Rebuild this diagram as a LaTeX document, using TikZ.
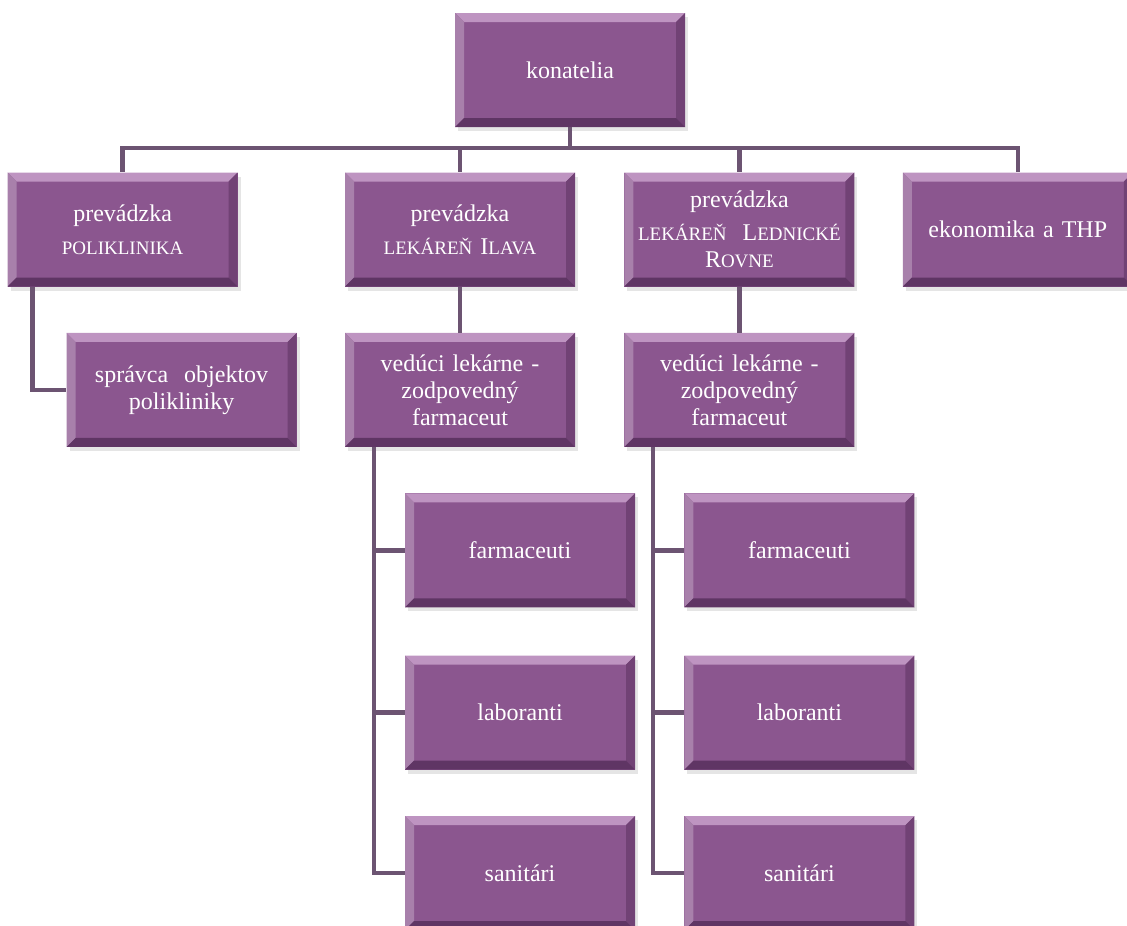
\documentclass[tikz,border=0pt]{standalone}
\usepackage{fontspec}
\setmainfont{Liberation Serif}
\usetikzlibrary{positioning,shadows}
\definecolor{fialova}{HTML}{8B568F}
\definecolor{svetla}{HTML}{BE94C1}
\definecolor{tmava}{HTML}{5F3564}
\definecolor{ciara}{HTML}{6C5472}
\newcommand{\kap}[1]{{\fontsize{19}{27}\selectfont #1}}

\begin{document}
\begin{tikzpicture}[x=1pt,y=1pt,node distance=46pt,
		unit/.style={rectangle,fill=fialova,text=white,minimum width=230pt,minimum height=114pt,
			text width=214pt,align=center,inner sep=0pt,font=\fontsize{24}{27}\selectfont,
			drop shadow={shadow xshift=3pt,shadow yshift=-4pt,fill=black!20},
			path picture={
				\fill[svetla] (path picture bounding box.north west) -- (path picture bounding box.north east)
					-- ++(-9pt,-9pt) -- ([shift={(9pt,-9pt)}]path picture bounding box.north west) -- cycle;
				\fill[fialova!75!white] (path picture bounding box.north west) -- ++(9pt,-9pt)
					-- ([shift={(9pt,9pt)}]path picture bounding box.south west) -- (path picture bounding box.south west) -- cycle;
				\fill[tmava!60!fialova] (path picture bounding box.north east) -- (path picture bounding box.south east)
					-- ++(-9pt,9pt) -- ([shift={(-9pt,-9pt)}]path picture bounding box.north east) -- cycle;
				\fill[tmava] (path picture bounding box.south west) -- (path picture bounding box.south east)
					-- ++(-9pt,9pt) -- ([shift={(9pt,9pt)}]path picture bounding box.south west) -- cycle;
			}},
		link/.style={draw=ciara,line width=4.5pt}]
		\clip (0,0) rectangle (1127,-926);
		\node[unit] (kon) at (570,-70) {konatelia};

		\node[unit] (ilava) at (460,-229.5) {prevádzka\\[6pt]\kap{LEKÁREŇ} I\kap{LAVA}};
		\node[unit] (poli) [left=107pt of ilava] {prevádzka\\[6pt]\kap{POLIKLINIKA}};
		\node[unit] (rovne) [right=49pt of ilava] {prevádzka\\[6pt]\kap{LEKÁREŇ}\ \ L\kap{EDNICKÉ}\\R\kap{OVNE}};
		\node[unit] (eko) [right=48pt of rovne] {ekonomika a THP};

		\node[unit] (spravca) [below=46pt of poli,xshift=59pt] {správca\ \ objektov\\polikliniky};
		\node[unit] (vedI) [below=of ilava] {vedúci lekárne -\\zodpovedný\\farmaceut};
		\node[unit] (vedR) [below=of rovne] {vedúci lekárne -\\zodpovedný\\farmaceut};

		\node[unit] (farmI) [below=of vedI,xshift=60pt] {farmaceuti};
		\node[unit] (labI) [below=48pt of farmI] {laboranti};
		\node[unit] (sanI) [below=of labI] {sanitári};
		\node[unit] (farmR) [below=of vedR,xshift=60pt] {farmaceuti};
		\node[unit] (labR) [below=48pt of farmR] {laboranti};
		\node[unit] (sanR) [below=of labR] {sanitári};

		\foreach \n in {poli,ilava,rovne,eko}
			\draw[link] (kon.south) -- ++(0,-21pt) -| (\n.north);
		\draw[link] ([xshift=25pt]poli.south west) |- (spravca.west);
		\draw[link] (ilava.south) -- (vedI.north);
		\draw[link] (rovne.south) -- (vedR.north);
		\foreach \v in {I,R}
			\foreach \n in {farm,lab,san}
				\draw[link] ([xshift=29pt]ved\v.south west) |- (\n\v.west);
		\end{tikzpicture}
\end{document}
